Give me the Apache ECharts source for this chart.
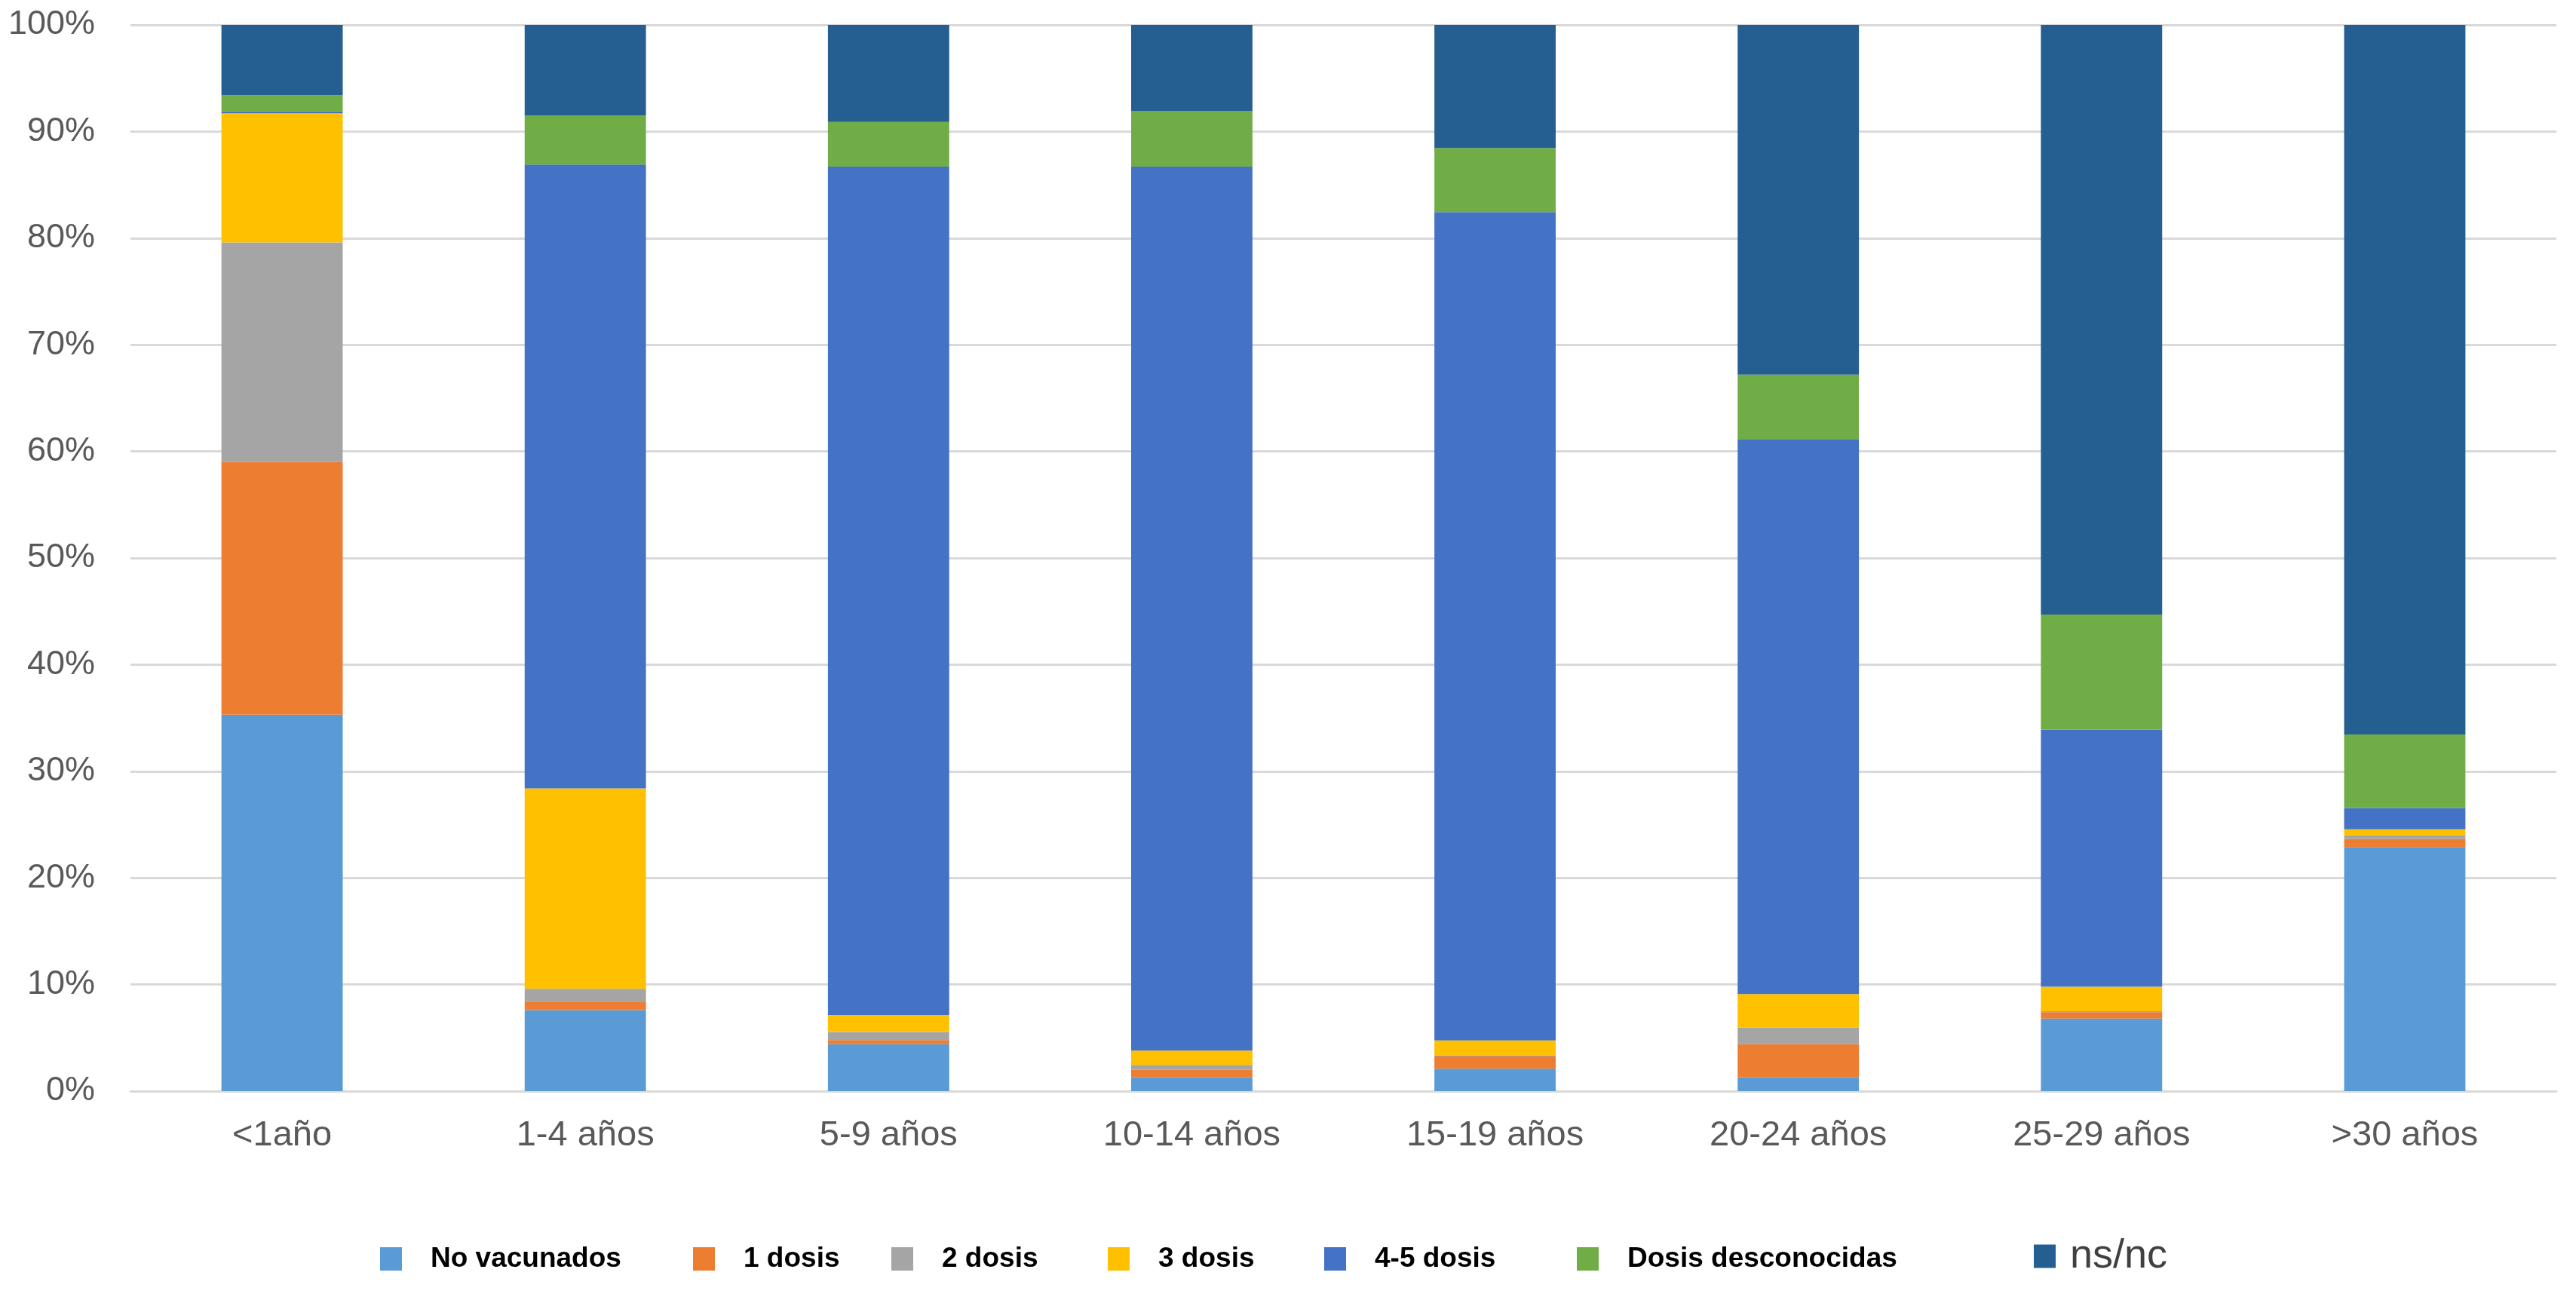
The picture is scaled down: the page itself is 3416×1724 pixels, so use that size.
<!DOCTYPE html>
<html>
<head>
<meta charset="utf-8">
<script src="https://cdn.jsdelivr.net/npm/echarts@6/dist/echarts.min.js"></script>
<style>
html,body{margin:0;padding:0;background:#fff;}
#chart{width:3416px;height:1724px;}
</style>
</head>
<body>
<div id="chart"></div>
<script>
const categories = ['<1año','1-4 años','5-9 años','10-14 años','15-19 años','20-24 años','25-29 años','>30 años'];
const seriesNames = ['No vacunados','1 dosis','2 dosis','3 dosis','4-5 dosis','Dosis desconocidas','ns/nc'];
const noVacunados = [35.3, 7.6, 4.4, 1.3, 2.1, 1.3, 6.8, 22.9];
const dosis1      = [23.7, 0.8, 0.4, 0.7, 1.15, 3.1, 0.6, 0.75];
const dosis2      = [20.6, 1.2, 0.75, 0.45, 0.1, 1.55, 0.1, 0.35];
const dosis3      = [12.1, 18.8, 1.6, 1.35, 1.4, 3.15, 2.3, 0.55];
const dosis45     = [0.2, 58.5, 79.55, 82.9, 77.7, 52.0, 24.1, 2.0];
const dosisDesc   = [1.5, 4.6, 4.2, 5.2, 6.0, 6.1, 10.8, 6.9];
const nsnc        = [6.6, 8.5, 9.1, 8.1, 11.55, 32.8, 55.3, 66.55];
const yTicks = [0,10,20,30,40,50,60,70,80,90,100];

const values = [noVacunados, dosis1, dosis2, dosis3, dosis45, dosisDesc, nsnc];
const colors = ['#5B9BD5','#ED7D31','#A5A5A5','#FFC000','#4472C4','#70AD47','#255E91'];
const legendLeft = [499, 914, 1177, 1464, 1751, 2086, 2692];

const chart = echarts.init(document.getElementById('chart'), null, {renderer:'canvas'});

const legends = seriesNames.map((n, i) => {
  const isLast = i === seriesNames.length - 1;
  const fs = isLast ? 54 : 37;
  return {
    left: legendLeft[i],
    top: 1665 - Math.round(fs/2) - (isLast ? 4 : 0),
    icon: 'rect',
    itemWidth: 29,
    itemHeight: 31,
    selectedMode: false,
    data: [{name: n}],
    textStyle: {
      fontFamily: 'Liberation Sans, Arial, sans-serif',
      fontSize: fs,
      lineHeight: fs,
      fontWeight: isLast ? 'normal' : 'bold',
      color: isLast ? '#404040' : '#000000',
      padding: [0, 0, 0, isLast ? 14 : 33]
    }
  };
});

chart.setOption({
  animation: false,
  backgroundColor: '#ffffff',
  color: colors,
  legend: legends,
  grid: {left: 173, right: 26, top: 33, bottom: 277, containLabel: false},
  xAxis: {
    type: 'category',
    data: categories,
    axisLine: {show: true, lineStyle: {color: '#d9d9d9', width: 3}},
    axisTick: {show: false},
    axisLabel: {
      margin: 36,
      fontFamily: 'Liberation Sans, Arial, sans-serif',
      fontSize: 47,
      color: '#595959',
      interval: 0
    }
  },
  yAxis: {
    type: 'value',
    min: yTicks[0],
    max: yTicks[yTicks.length-1],
    interval: yTicks[1]-yTicks[0],
    axisLine: {show: false},
    axisTick: {show: false},
    splitLine: {show: true, lineStyle: {color: '#d9d9d9', width: 3}},
    axisLabel: {
      margin: 47,
      fontFamily: 'Liberation Sans, Arial, sans-serif',
      fontSize: 45,
      color: '#595959',
      formatter: '{value}%'
    }
  },
  series: seriesNames.map((n, i) => ({
    name: n,
    type: 'bar',
    stack: 'total',
    barWidth: '40%',
    data: values[i],
    itemStyle: {color: colors[i]}
  }))
});
</script>
</body>
</html>
